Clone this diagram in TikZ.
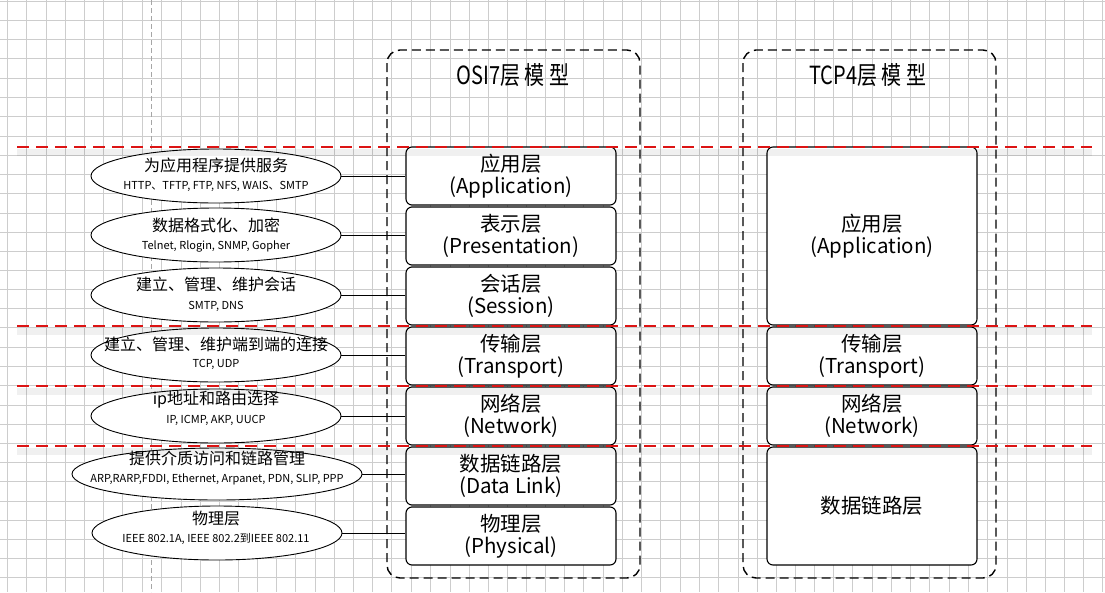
\documentclass[tikz,border=0pt]{standalone}
\usepackage{fontspec}
\setmainfont{Noto Sans CJK SC}
\newfontfamily\titlefont[FakeStretch=0.8]{Noto Sans CJK SC}
\usetikzlibrary{shapes.geometric}
\definecolor{gridgray}{RGB}{205,205,205}
\definecolor{redline}{RGB}{220,20,20}
\tikzset{
  gridline/.style={draw=gridgray, line width=1pt},
  vguide/.style={draw=black!35, line width=0.8pt, dash pattern=on 5pt off 3pt},
  redsep/.style={draw=redline, line width=1.8pt, dash pattern=on 12pt off 7pt},
  redshadow/.style={draw=black, opacity=0.06, line width=7pt},
  outerbox/.style={draw=black, line width=1.4pt, dash pattern=on 9pt off 5pt, rounded corners=13pt},
  ell/.style={ellipse, draw=black, line width=0.9pt, fill=white, minimum width=250pt, minimum height=54pt, inner sep=0pt},
  ellwide/.style={ell, minimum width=290pt, minimum height=52pt},
  mt/.style={font=\fontsize{16}{18}\selectfont, inner sep=0pt},
  st/.style={font=\fontsize{11}{13}\selectfont, inner sep=0pt},
  layer/.style={draw=black, line width=1.1pt, rounded corners=6pt, fill=white, minimum width=210pt, minimum height=58pt, align=center, inner sep=0pt, font=\fontsize{20.5}{22}\selectfont},
  ttl/.style={font=\titlefont\fontsize{25}{28}\selectfont, inner sep=0pt},
  conn/.style={draw=black, line width=0.9pt},
}
\begin{document}
\begin{tikzpicture}[x=1pt,y=-1pt]
\useasboundingbox (0,0) rectangle (1105,592);
\fill[white] (0,0) rectangle (1105,592);
% grid
\foreach \i in {0,...,57} {
  \pgfmathsetmacro{\gx}{round(7.3+19.14*\i)*1.00375+0.5}
  \draw[gridline] (\gx pt,0pt) -- (\gx pt,-592pt);
}
\foreach \j in {0,...,30} {
  \pgfmathsetmacro{\gy}{round(1+19.14*\j)*1.00375+0.5}
  \draw[gridline] (0pt,-\gy pt) -- (1105pt,-\gy pt);
}
\draw[vguide] (151.7,0) -- (151.7,592);

% outer dashed frames
\draw[outerbox] (387,50) rectangle (640,578);
\draw[outerbox] (743,50) rectangle (996,578);
\node[ttl] (osititle) at (513,75) {OSI7层 模 型};
\node[ttl] (tcptitle) at (868,75) {TCP4层 模 型};

% OSI layers
\node[layer] (b1) at (511,176) {应用层\\(Application)};
\node[layer] (b2) at (511,236) {表示层\\(Presentation)};
\node[layer] (b3) at (511,296) {会话层\\(Session)};
\node[layer] (b4) at (511,356) {传输层\\(Transport)};
\node[layer] (b5) at (511,416) {网络层\\(Network)};
\node[layer] (b6) at (511,476) {数据链路层\\(Data Link)};
\node[layer] (b7) at (511,536) {物理层\\(Physical)};

% TCP layers
\node[layer, minimum height=178pt] (t1) at (872,236) {应用层\\(Application)};
\node[layer] (t2) at (872,356) {传输层\\(Transport)};
\node[layer] (t3) at (872,416) {网络层\\(Network)};
\node[layer, minimum height=118pt] (t4) at (872,506) {数据链路层};

% ellipses
\node[ell] (e1) at (216,176) {};
\node[ell] (e2) at (216,235) {};
\node[ell] (e3) at (216,295) {};
\node[ell] (e4) at (216,355) {};
\node[ell] (e5) at (216,416) {};
\node[ellwide] (e6) at (217,474) {};
\node[ell] (e7) at (217,533) {};

\node[mt] (e1t) at (216,165) {为应用程序提供服务};
\node[st] (e1s) at (216,186) {HTTP、TFTP, FTP, NFS, WAIS、SMTP};
\node[mt] (e2t) at (216,225) {数据格式化、加密};
\node[st] (e2s) at (216,246) {Telnet, Rlogin, SNMP, Gopher};
\node[mt] (e3t) at (216,284) {建立、管理、维护会话};
\node[st] (e3s) at (216,306) {SMTP, DNS};
\node[mt] (e4t) at (216,344) {建立、管理、维护端到端的连接};
\node[st] (e4s) at (216,364) {TCP, UDP};
\node[mt] (e5t) at (216,400) {ip地址和路由选择};
\node[st] (e5s) at (216,420) {IP, ICMP, AKP, UUCP};
\node[mt] (e6t) at (217,458) {提供介质访问和链路管理};
\node[st] (e6s) at (217,479) {ARP,RARP,FDDI, Ethernet, Arpanet, PDN, SLIP, PPP};
\node[mt] (e7t) at (216,518) {物理层};
\node[st] (e7s) at (216,539) {IEEE 802.1A, IEEE 802.2到IEEE 802.11};

% connectors
\foreach \k in {1,...,7} \draw[conn] (e\k.east) -- (e\k.east -| b\k.west);

% red separators
\foreach \yy in {147,326,386,446} {
  \draw[redshadow] (17,\yy+5) -- (1092,\yy+5);
  \draw[redsep] (17,\yy) -- (1092,\yy);
}
\end{tikzpicture}
\end{document}
